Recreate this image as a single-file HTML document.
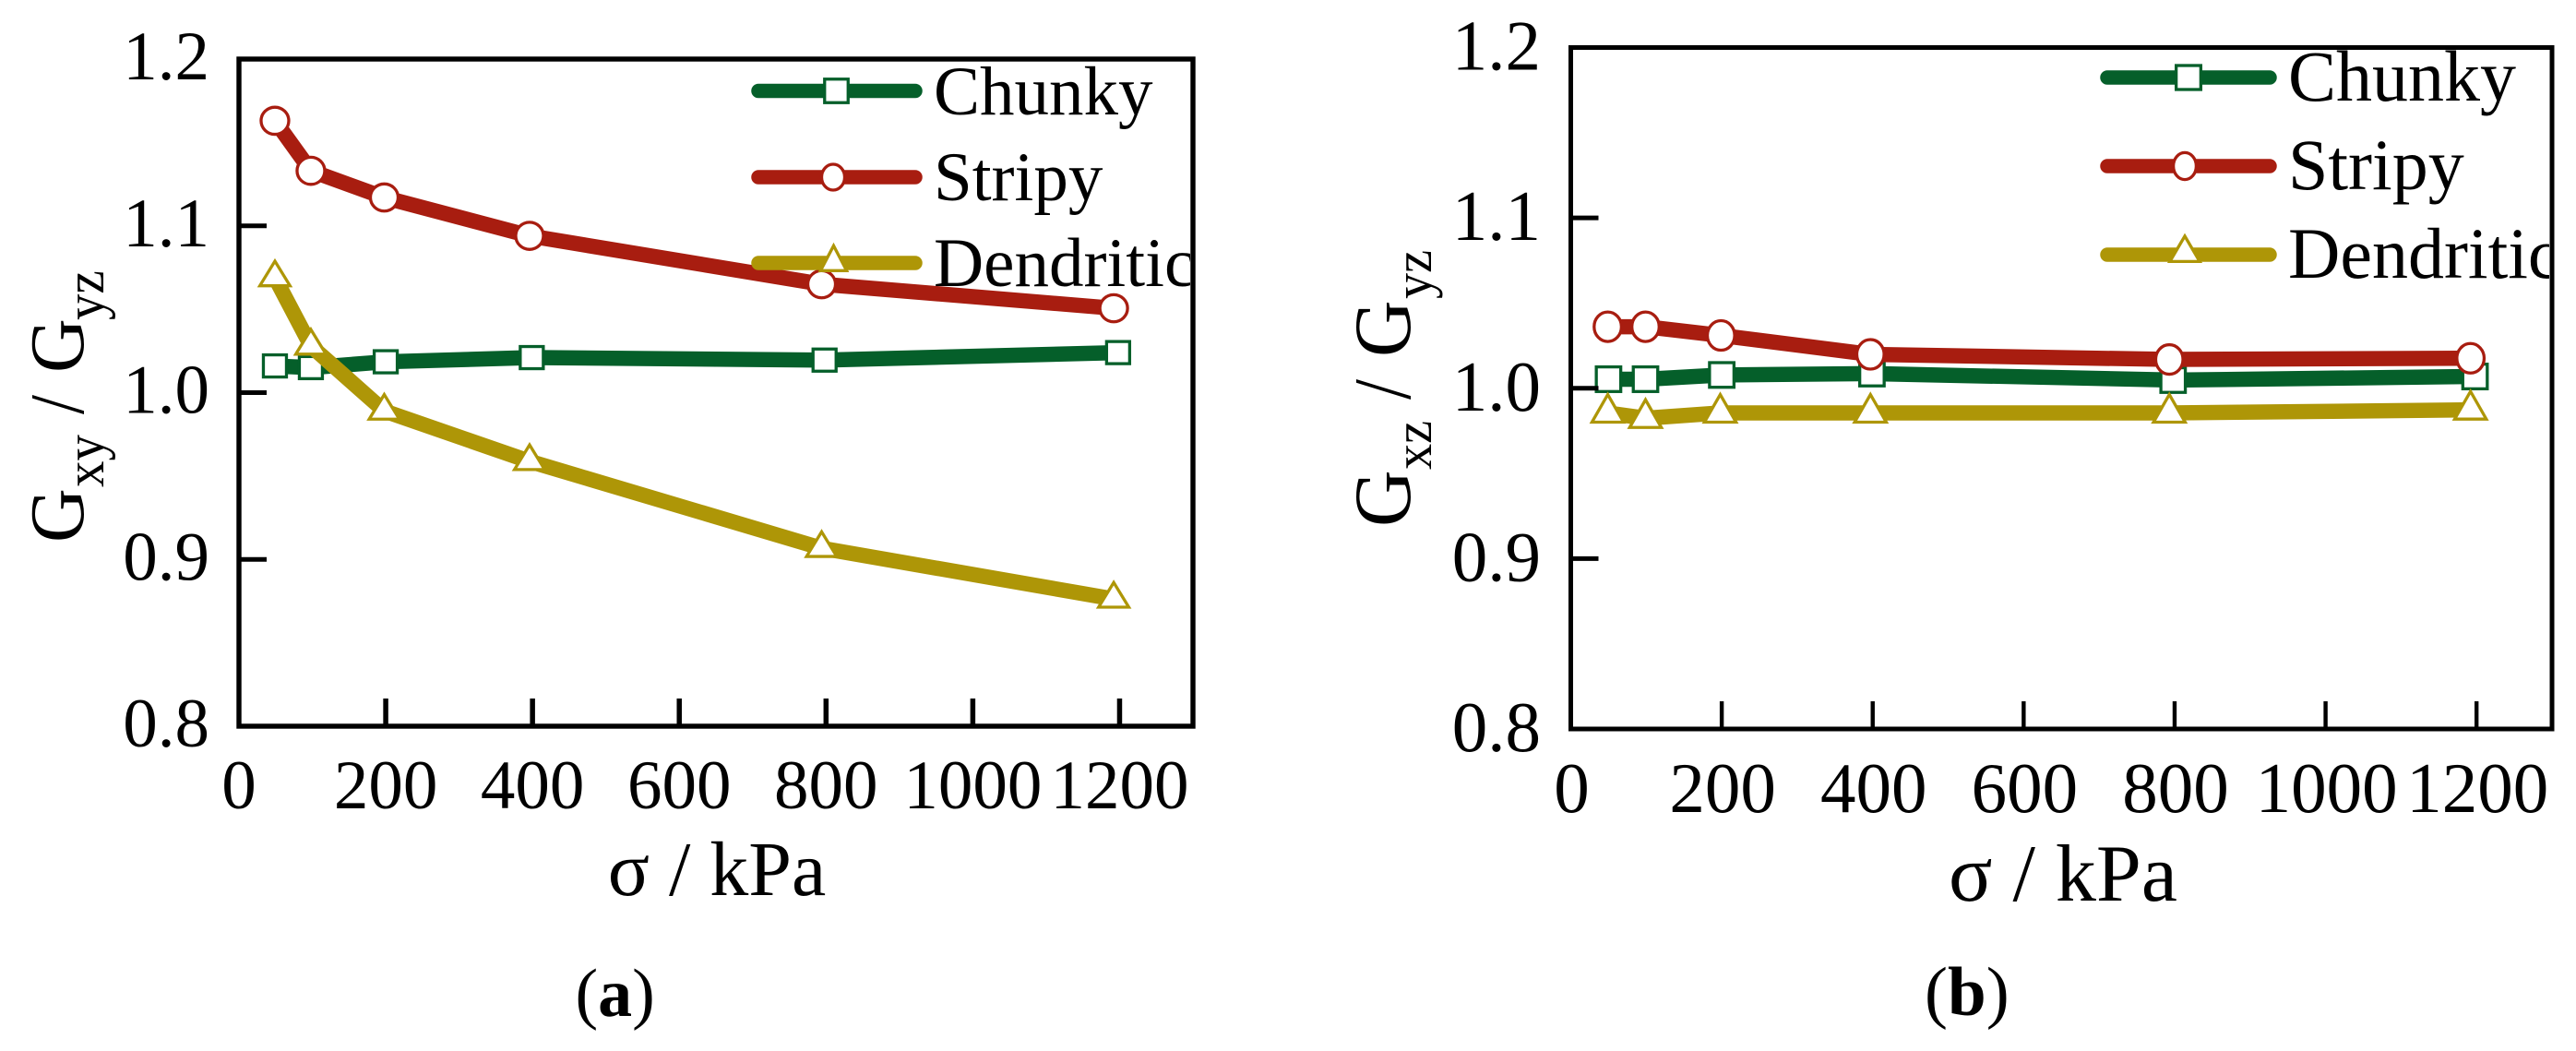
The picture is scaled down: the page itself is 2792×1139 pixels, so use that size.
<!DOCTYPE html>
<html lang="en">
<head>
<meta charset="utf-8">
<title>Shear modulus ratio charts</title>
<style>
html,body{margin:0;padding:0;background:#fff;width:2792px;height:1139px;overflow:hidden}
svg{display:block}
text{font-family:"Liberation Serif","DejaVu Serif",serif;fill:#000}
</style>
</head>
<body>
<svg id="figure" xmlns="http://www.w3.org/2000/svg" width="2792" height="1139" viewBox="0 0 2792 1139">
  <defs>
    <clipPath id="clip-a"><rect x="200" y="0" width="1090" height="800"/></clipPath>
    <clipPath id="clip-b"><rect x="1650" y="0" width="1113" height="800"/></clipPath>
  </defs>
  <rect x="0" y="0" width="2792" height="1139" fill="#fff"/>
  <g id="panel-a"></g>
  <g id="panel-b"></g>

  <text x="623.5" y="1101" font-size="74">(<tspan font-weight="bold">a</tspan>)</text>
  <text x="2086" y="1100" font-size="75">(<tspan font-weight="bold">b</tspan>)</text>
</svg>
<script>
// ---- chart data ----
const seriesNames = ['Chunky', 'Stripy', 'Dendritic'];
const xTickValues = [200, 400, 600, 800, 1000, 1200];
const xTickLabels = ['0', '200', '400', '600', '800', '1000', '1200'];
const xTickLabelValues = [0, 200, 400, 600, 800, 1000, 1200];
const yTickValues = [1.1, 1.0, 0.9];
const yTickLabels = ['1.2', '1.1', '1.0', '0.9', '0.8'];
const yTickLabelValues = [1.2, 1.1, 1.0, 0.9, 0.8];

const aChunkyX = [49, 98, 200, 399, 798, 1198];
const aChunkyY = [1.016, 1.015, 1.0185, 1.021, 1.0195, 1.024];
const aStripyX = [49, 98, 198, 396, 794, 1192];
const aStripyY = [1.163, 1.133, 1.117, 1.094, 1.065, 1.0506];
const aDendriticX = [49, 98, 198, 396, 794, 1192];
const aDendriticY = [1.069, 1.028, 0.989, 0.9588, 0.9067, 0.8763];

const bChunkyX = [50, 99, 200, 399, 798, 1198];
const bChunkyY = [1.0053, 1.0053, 1.0078, 1.0086, 1.0048, 1.0069];
const bStripyX = [49, 99, 199, 397, 793, 1192];
const bStripyY = [1.0361, 1.0361, 1.031, 1.0199, 1.0169, 1.0176];
const bDendriticX = [49, 99, 198, 397, 793, 1192];
const bDendriticY = [0.9855, 0.9824, 0.9855, 0.9855, 0.9855, 0.9873];

// ---- styling ----
const colors = ['#055f2a', '#a81d10', '#ae9607'];
const SVGNS = 'http://www.w3.org/2000/svg';
const MARKER_STROKE = 3.3;

function make(tag, attrs, parent) {
  const el = document.createElementNS(SVGNS, tag);
  for (const k in attrs) el.setAttribute(k, attrs[k]);
  parent.appendChild(el);
  return el;
}

function drawMarker(kind, cx, cy, color, parent, s) {
  let el;
  if (kind === 0) {
    el = make('rect', {x: cx - s.sw / 2, y: cy - s.sh / 2, width: s.sw, height: s.sh, fill: '#fff', stroke: color, 'stroke-width': MARKER_STROKE}, parent);
    
    
  } else if (kind === 1) {
    el = make('ellipse', {cx: cx, cy: cy, rx: s.rx, ry: s.ry, fill: '#fff', stroke: color, 'stroke-width': MARKER_STROKE}, parent);
    
    
  } else {
    const pts = [[cx, cy - s.th * 2 / 3], [cx + s.tw / 2, cy + s.th / 3], [cx - s.tw / 2, cy + s.th / 3]];
    el = make('polygon', {points: pts.map(p => p.join(',')).join(' '), fill: '#fff', stroke: color, 'stroke-width': MARKER_STROKE, 'stroke-linejoin': 'miter'}, parent);
    
    
  }
  return el;
}

function rotatedText(str, baseX, startY, size, sx, parent) {
  const el = make('text', {transform: 'translate(' + baseX + ',' + startY + ') rotate(-90) scale(' + sx + ',1)', 'font-size': size}, parent);
  el.textContent = str;
  return el;
}

function drawPanel(root, p, xs, ys) {
  const xScale = v => p.x0 + (v - 0) * (p.x1 - p.x0) / 1300;
  const yScale = v => p.yBottom - (v - 0.8) * (p.yBottom - p.yTop) / 0.4;

  // series
  for (let i = 0; i < seriesNames.length; i++) {
    const g = make('g', {}, root);
    
    
    const pts = xs[i].map((x, j) => xScale(x) + ',' + yScale(ys[i][j])).join(' ');
    const line = make('polyline', {points: pts, fill: 'none', stroke: colors[i], 'stroke-width': 16.5, 'stroke-linejoin': 'round'}, g);
    
    
    xs[i].forEach((x, j) => drawMarker(i, xScale(x), yScale(ys[i][j]), colors[i], g, p.marker));
  }

  // legend
  const legend = make('g', {}, root);
  
  
  seriesNames.forEach((name, i) => {
    const entry = make('g', {}, legend);
    
    
    const sample = make('line', {x1: p.leg.x1, x2: p.leg.x2, y1: p.leg.y[i], y2: p.leg.y[i], stroke: colors[i], 'stroke-width': 15.5, 'stroke-linecap': 'round'}, entry);
    
    
    const my = i === 2 ? p.leg.triY : p.leg.y[i];
    drawMarker(i, p.leg.mx[i], my, colors[i], entry, p.leg.marker);
    const label = make('text', {x: p.leg.tx, y: p.leg.ty[i], 'font-size': p.leg.font, 'clip-path': 'url(#' + p.clip + ')'}, entry);
    
    
    label.textContent = name;
  });

  // frame
  const frame = make('rect', {x: p.x0, y: p.yTop, width: p.x1 - p.x0, height: p.yBottom - p.yTop, fill: 'none', stroke: '#000', 'stroke-width': p.frameW, 'stroke-linejoin': 'miter'}, root);
  
  

  // ticks
  xTickValues.forEach(v => {
    const t = make('line', {x1: xScale(v), x2: xScale(v), y1: p.yBottom, y2: p.yBottom - 30, stroke: '#000', 'stroke-width': p.xTickW}, root);
    
    
  });
  yTickValues.forEach(v => {
    const t = make('line', {x1: p.x0, x2: p.x0 + 30, y1: yScale(v), y2: yScale(v), stroke: '#000', 'stroke-width': 5}, root);
    
    
  });

  // tick labels
  xTickLabels.forEach((s, i) => {
    const t = make('text', {x: xScale(xTickLabelValues[i]) + p.xLabelShift, y: p.xTickBase, 'font-size': p.tickFont, 'text-anchor': 'middle'}, root);
    
    
    t.textContent = s;
  });
  yTickLabels.forEach((s, i) => {
    const t = make('text', {x: p.yTickRight, y: yScale(yTickLabelValues[i]) + p.yTickDrop, 'font-size': p.tickFont, 'text-anchor': 'end'}, root);
    
    
    t.textContent = s;
  });

  // x axis title
  const xt = make('text', {x: p.xTitle.x, y: p.xTitle.y, 'font-size': p.xTitle.size, 'text-anchor': 'middle'}, root);
  
  
  xt.textContent = '\u03C3 / kPa';

  // y axis title
  const yt = make('g', {}, root);
  
  
  const t = p.yTitle;
  rotatedText('G', t.base, t.g1, t.size, t.sx, yt);
  rotatedText(t.sub1, t.subBase, t.s1, t.subSize, t.subSx, yt);
  rotatedText('/', t.base, t.slash, t.size, 0.9, yt);
  rotatedText('G', t.base, t.g2, t.size, t.sx, yt);
  rotatedText('yz', t.subBase, t.s2, t.subSize, t.subSx, yt);
}

drawPanel(document.getElementById('panel-a'), {
  x0: 259, x1: 1293, yTop: 64, yBottom: 787, clip: 'clip-a', frameW: 5.4, xTickW: 5.5,
  marker: {sw: 25, sh: 24, rx: 15, ry: 14.7, tw: 32.7, th: 26.7},
  leg: {x1: 822, x2: 992, y: [98.5, 192, 285], mx: [906.5, 903, 903.5], triY: 284.3, tx: 1012, ty: [124, 217, 310], font: 75,
        marker: {sw: 25.5, sh: 25.5, rx: 12.5, ry: 14, tw: 28.3, th: 27}},
  tickFont: 75, xTickBase: 876, yTickRight: 227, yTickDrop: 22, xLabelShift: 0,
  xTitle: {x: 777, y: 970, size: 84},
  yTitle: {base: 90, subBase: 112, size: 84, sx: 0.97, subSize: 60, subSx: 0.95, g2: 404, s2: 347, slash: 449, g1: 588, s1: 528, sub1: 'xy'}
}, [aChunkyX, aStripyX, aDendriticX], [aChunkyY, aStripyY, aDendriticY]);

drawPanel(document.getElementById('panel-b'), {
  x0: 1702.5, x1: 2766, yTop: 51.5, yBottom: 790, clip: 'clip-b', frameW: 5, xTickW: 4.4,
  marker: {sw: 26.5, sh: 26.7, rx: 14.8, ry: 16, tw: 34.3, th: 30},
  leg: {x1: 2284, x2: 2460, y: [84, 180, 276], mx: [2372, 2368, 2368], triY: 274.2, tx: 2480, ty: [109, 205, 301], font: 78,
        marker: {sw: 26.7, sh: 26, rx: 12.4, ry: 14.6, tw: 32.3, th: 27.5}},
  tickFont: 77, xTickBase: 880, yTickRight: 1670, yTickDrop: 24, xLabelShift: 1,
  xTitle: {x: 2236, y: 976, size: 88},
  yTitle: {base: 1528, subBase: 1551, size: 88, sx: 0.97, subSize: 58, subSx: 0.97, g2: 387, s2: 324, slash: 433, g1: 571, s1: 509, sub1: 'xz'}
}, [bChunkyX, bStripyX, bDendriticX], [bChunkyY, bStripyY, bDendriticY]);
</script>
</body>
</html>
